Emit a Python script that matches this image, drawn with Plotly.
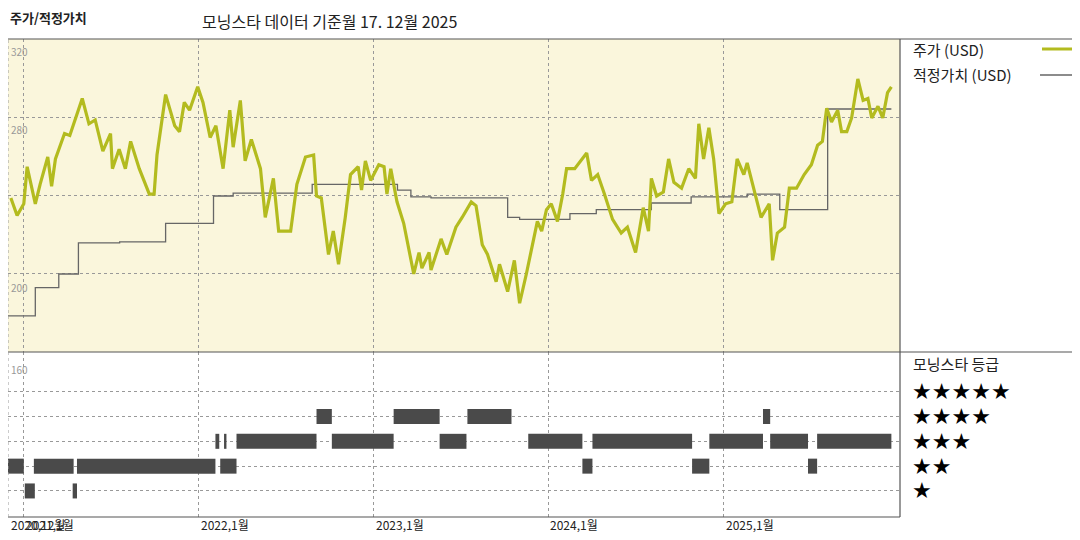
import plotly.graph_objects as go

# price (USD)
price_dates = [
    "2020-12-05", "2020-12-18", "2021-01-01", "2021-01-08", "2021-01-25", "2021-02-04",
    "2021-02-20", "2021-02-28", "2021-03-08", "2021-03-27", "2021-04-07", "2021-04-23",
    "2021-05-03", "2021-05-17", "2021-05-30", "2021-06-15", "2021-07-01", "2021-07-05",
    "2021-07-19", "2021-08-01", "2021-08-12", "2021-08-30", "2021-09-20", "2021-09-30",
    "2021-10-06", "2021-10-24", "2021-11-12", "2021-11-22", "2021-12-02", "2021-12-13",
    "2021-12-30", "2022-01-10", "2022-01-25", "2022-02-06", "2022-02-21", "2022-03-07",
    "2022-03-14", "2022-03-29", "2022-04-08", "2022-04-21", "2022-05-10", "2022-05-20",
    "2022-06-06", "2022-06-17", "2022-07-12", "2022-07-25", "2022-08-12", "2022-08-29",
    "2022-09-04", "2022-09-14", "2022-09-29", "2022-10-09", "2022-10-20", "2022-11-03",
    "2022-11-14", "2022-11-30", "2022-12-07", "2022-12-15", "2022-12-26", "2023-01-12",
    "2023-01-23", "2023-01-29", "2023-02-06", "2023-02-19", "2023-03-05", "2023-03-26",
    "2023-04-06", "2023-04-12", "2023-04-27", "2023-05-01", "2023-05-22", "2023-06-03",
    "2023-06-22", "2023-07-05", "2023-07-24", "2023-08-03", "2023-08-16", "2023-08-27",
    "2023-09-14", "2023-09-21", "2023-10-08", "2023-10-22", "2023-11-02", "2023-11-16",
    "2023-11-27", "2023-12-09", "2023-12-18", "2023-12-28", "2024-01-07", "2024-01-20",
    "2024-01-31", "2024-02-08", "2024-02-25", "2024-03-21", "2024-03-31", "2024-04-13",
    "2024-04-27", "2024-05-14", "2024-06-01", "2024-06-14", "2024-07-01", "2024-07-17",
    "2024-07-28", "2024-08-03", "2024-08-14", "2024-08-28", "2024-09-08", "2024-09-19",
    "2024-10-05", "2024-10-20", "2024-11-03", "2024-11-10", "2024-11-20", "2024-12-01",
    "2024-12-11", "2024-12-22", "2025-01-05", "2025-01-18", "2025-01-29", "2025-02-12",
    "2025-02-19", "2025-03-05", "2025-03-20", "2025-04-06", "2025-04-13", "2025-04-23",
    "2025-05-08", "2025-05-18", "2025-06-02", "2025-06-18", "2025-07-03", "2025-07-16",
    "2025-07-26", "2025-08-04", "2025-08-14", "2025-08-27", "2025-09-04", "2025-09-15",
    "2025-09-25", "2025-10-08", "2025-10-19", "2025-10-29", "2025-11-06", "2025-11-19",
    "2025-11-29", "2025-12-09", "2025-12-17",
]
price = [
    239, 230, 236, 255, 236, 246,
    260, 245, 259, 272, 271, 282,
    290, 277, 279, 263, 272, 254,
    264, 254, 268, 254, 241, 241,
    261, 292, 276, 273, 288, 284,
    296, 288, 270, 276, 254, 284,
    265, 289, 258, 269, 254, 229,
    249, 222, 222, 246, 260, 261,
    240, 239, 210, 222, 205, 229,
    251, 255, 243, 258, 248, 256,
    255, 241, 254, 237, 226, 200,
    211, 203, 211, 202, 218, 210,
    224, 229, 237, 235, 215, 210,
    196, 205, 191, 207, 185, 200,
    213, 227, 222, 233, 236, 227,
    241, 254, 254, 262, 248, 251,
    241, 228, 221, 224, 211, 234,
    222, 249, 240, 242, 259, 247,
    244, 254, 249, 277, 259, 275,
    259, 231, 236, 237, 259, 251,
    257, 244, 229, 236, 207, 221,
    224, 244, 244, 251, 256, 266,
    268, 285, 278, 284, 273, 273,
    280, 300, 289, 290, 280, 286,
    280, 293, 296,
]

# fair value (USD), step series
fv_dates = [
    "2020-11-29", "2021-01-25", "2021-03-15", "2021-04-25", "2021-07-20", "2021-10-24",
    "2022-02-01", "2022-03-14", "2022-08-26", "2023-02-20", "2023-03-20", "2023-05-01",
    "2023-10-08", "2023-11-02", "2024-02-15", "2024-04-10", "2024-08-03", "2024-10-25",
    "2025-02-19", "2025-04-28", "2025-08-06", "2025-12-17",
]
fair_value = [
    178.5, 193, 200, 216, 216.5, 226,
    240, 241.5, 246, 243, 239.5, 239,
    229, 228, 231, 233, 236.4, 239.5,
    241, 233, 284.6, 284.6,
]

# Morningstar star rating periods
rating_start = [
    "2020-11-25", "2021-01-03", "2021-01-22", "2021-04-13", "2021-04-22", "2022-02-05",
    "2022-02-13", "2022-02-15", "2022-02-23", "2022-03-21", "2022-09-04", "2022-10-06",
    "2023-02-12", "2023-05-19", "2023-07-16", "2023-11-20", "2024-03-12", "2024-04-02",
    "2024-10-27", "2024-12-02", "2025-03-24", "2025-04-08", "2025-06-26", "2025-07-15",
]
rating_end = [
    "2021-01-01", "2021-01-24", "2021-04-15", "2021-04-22", "2022-02-05", "2022-02-13",
    "2022-02-13", "2022-03-21", "2022-02-28", "2022-09-04", "2022-10-06", "2023-02-12",
    "2023-05-19", "2023-07-14", "2023-10-16", "2024-03-12", "2024-04-02", "2024-10-27",
    "2024-12-02", "2025-03-24", "2025-04-08", "2025-06-26", "2025-07-15", "2025-12-17",
]
rating_stars = [
    2, 1, 2, 1, 2, 3,
    3, 2, 3, 3, 4, 3,
    4, 3, 4, 3, 2, 3,
    2, 3, 4, 3, 2, 3,
]

year_ticks = ["2021-01-01", "2022-01-01", "2023-01-01", "2024-01-01", "2025-01-01"]
tick_labels = ["2020,12월", "2021,1월", "2022,1월", "2023,1월", "2024,1월", "2025,1월"]
tick_label_dates = ["2020-12-01", "2021-01-01", "2022-01-01", "2023-01-01", "2024-01-01", "2025-01-01"]
y_labels = [320, 280, 200, 160]

FONT = "Noto Sans CJK KR"
GREEN = "#b3bb1f"
x_range = ["2020-11-29", "2026-01-04"]
OFFX, OFFY = 5, 7  # page offset of the rendered figure


def px(x):
    return max(0, (x - OFFX) / 1080)


def py(y):
    return 1 - (y - OFFY) / 540


fig = go.Figure()

fig.add_trace(go.Scatter(x=fv_dates, y=fair_value, mode="lines", line=dict(color="#666666", width=1.3, shape="hv"),
                         xaxis="x", yaxis="y", showlegend=False))
fig.add_trace(go.Scatter(x=price_dates, y=price, mode="lines", line=dict(color=GREEN, width=3.2),
                         xaxis="x", yaxis="y", showlegend=False))

# rating bars: one segment per period, None separated
rx, ry = [], []
for s, e, r in zip(rating_start, rating_end, rating_stars):
    rx += [s, e, None]
    ry += [r, r, None]
fig.add_trace(go.Scatter(x=rx, y=ry, mode="lines", line=dict(color="#4a4a4a", width=15),
                         xaxis="x2", yaxis="y2", showlegend=False))

grid = dict(showgrid=True, gridcolor="#999999", griddash="dot", gridwidth=1)
fig.update_layout(
    width=1080, height=540, margin=dict(l=0, r=0, t=0, b=0),
    paper_bgcolor="white", plot_bgcolor="white",
    font=dict(family=FONT),
    xaxis=dict(domain=[px(4), px(897)], range=x_range, anchor="y", tickvals=year_ticks,
               showticklabels=False, zeroline=False, **grid),
    yaxis=dict(domain=[py(351), py(38)], range=[160, 320.5], tickvals=[200, 240, 280],
               showticklabels=False, zeroline=False, **grid),
    xaxis2=dict(domain=[px(4), px(897)], range=x_range, anchor="y2", tickvals=year_ticks,
                showticklabels=False, zeroline=False, **grid),
    yaxis2=dict(domain=[py(516), py(351)], range=[-0.05, 6.6], tickvals=[1, 2, 3, 4, 5],
                showticklabels=False, zeroline=False, **grid),
)

# beige panel background
fig.add_shape(type="rect", xref="x domain", yref="y domain", x0=0, x1=1, y0=0, y1=1,
              fillcolor="#faf6dc", line_width=0, layer="below")
# frame lines
frame = dict(color="#555555", width=1.2)
fig.add_shape(type="line", xref="paper", yref="paper", x0=0, x1=1, y0=py(38), y1=py(38), line=frame)
fig.add_shape(type="line", xref="paper", yref="paper", x0=0, x1=1, y0=py(351), y1=py(351), line=frame)
fig.add_shape(type="line", xref="paper", yref="paper", x0=0, x1=px(897), y0=py(516), y1=py(516), line=frame)
fig.add_shape(type="line", xref="paper", yref="paper", x0=px(897), x1=px(897), y0=py(516), y1=py(38), line=frame)
fig.add_shape(type="line", xref="paper", yref="paper", x0=px(4), x1=px(4), y0=py(516), y1=py(38),
              line=dict(color="#999999", width=1, dash="dot"))

for v in y_labels:
    if v == 160:
        fig.add_annotation(x="2020-12-01", y=5.9, xref="x2", yref="y2", text=str(v), showarrow=False,
                           xanchor="left", yanchor="middle", font=dict(size=10, color="#999999"))
    else:
        fig.add_annotation(x="2020-12-01", y=v, xref="x", yref="y", text=str(v), showarrow=False,
                           xanchor="left", yanchor="top", yshift=-2 if v != 200 else -4,
                           font=dict(size=10, color="#999999"))

for d, t in zip(tick_label_dates, tick_labels):
    fig.add_annotation(x=d, y=py(523), xref="x2", yref="paper", text=t, showarrow=False, xanchor="left",
                       yanchor="middle", font=dict(size=12, color="#222222"))


def label(x, y, text, size):
    fig.add_annotation(x=px(x), y=py(y), xref="paper", yref="paper", text=text, showarrow=False,
                       xanchor="left", yanchor="middle", font=dict(size=size, color="#222222"))


label(5, 17, "<b>주가/적정가치</b>", 13)
label(197, 20, "모닝스타 데이터 기준월 17. 12월 2025", 16)

# legend
label(908, 48, "주가 (USD)", 15)
label(908, 73, "적정가치 (USD)", 15)
fig.add_shape(type="line", xref="paper", yref="paper", x0=px(1039), x1=px(1071),
              y0=py(48), y1=py(48), line=dict(color=GREEN, width=3))
fig.add_shape(type="line", xref="paper", yref="paper", x0=px(1037), x1=px(1071),
              y0=py(74), y1=py(74), line=dict(color="#666666", width=1.3))
label(908, 362, "모닝스타 등급", 15)
for n in [5, 4, 3, 2, 1]:
    fig.add_annotation(x=px(907), y=n, xref="paper", yref="y2", text="★" * n, showarrow=False,
                       xanchor="left", yanchor="middle",
                       font=dict(size=22, color="black", family="DejaVu Sans"))

fig.write_html("out.html")
